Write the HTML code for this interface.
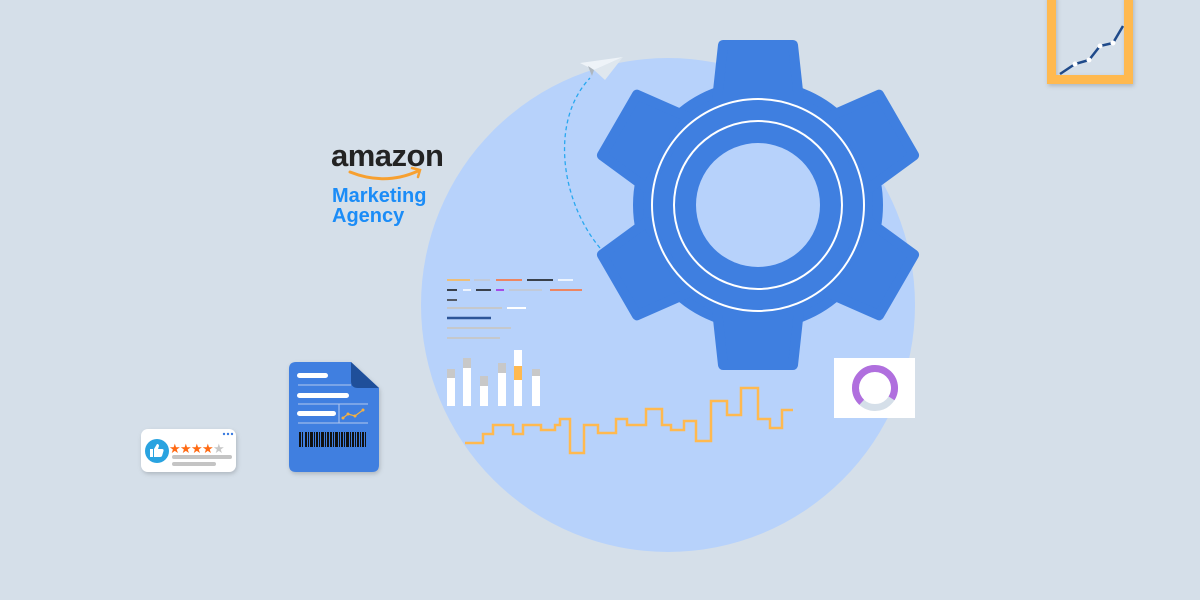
<!DOCTYPE html>
<html><head><meta charset="utf-8"><style>
html,body{margin:0;padding:0;background:#d5dfe9;}
svg{display:block;}
</style></head><body>
<svg width="1200" height="600" viewBox="0 0 1200 600" xmlns="http://www.w3.org/2000/svg">
<defs>
<filter id="sh" x="-20%" y="-20%" width="140%" height="140%"><feDropShadow dx="1" dy="2" stdDeviation="2" flood-color="#000" flood-opacity="0.18"/></filter>
</defs>
<rect width="1200" height="600" fill="#d5dfe9"/>
<circle cx="668" cy="305" r="247" fill="#b7d2fb"/>

<!-- gear -->
<g fill="#3f7fe0" stroke="#3f7fe0" stroke-width="10" stroke-linejoin="round">
  <g transform="translate(758,205)">
    <circle r="120"/>
    <g id="t"><polygon points="-41,-105 41,-105 35,-160 -35,-160"/></g>
    <use href="#t" transform="rotate(60)"/>
    <use href="#t" transform="rotate(120)"/>
    <use href="#t" transform="rotate(180)"/>
    <use href="#t" transform="rotate(240)"/>
    <use href="#t" transform="rotate(300)"/>
  </g>
</g>
<circle cx="758" cy="205" r="106" fill="none" stroke="#fff" stroke-width="2"/>
<circle cx="758" cy="205" r="84" fill="none" stroke="#fff" stroke-width="2"/>
<circle cx="758" cy="205" r="62" fill="#b7d2fb"/>

<!-- dashed path and plane -->
<path d="M600,248 C560,200 550,120 590,78" fill="none" stroke="#29a8f0" stroke-width="1.3" stroke-dasharray="4,3"/>
<polygon points="580,63 623,57 594,70" fill="#eef3f8"/>
<polygon points="594,70 623,57 605,80" fill="#dfe7ee"/>
<polygon points="588,66 594,70 592,76" fill="#aeb7bf"/>

<!-- amazon -->
<text x="331" y="166" font-family="Liberation Sans, sans-serif" font-size="31" font-weight="bold" fill="#232323" letter-spacing="-0.5">amazon</text>
<path d="M350,172 Q385,186 418,171" fill="none" stroke="#f7a030" stroke-width="3" stroke-linecap="round"/>
<path d="M412,168 L420,170 L418,177" fill="none" stroke="#f7a030" stroke-width="2.5" stroke-linecap="round"/>
<text x="332" y="202" font-family="Liberation Sans, sans-serif" font-size="20" font-weight="bold" fill="#1b8cf7">Marketing</text>
<text x="332" y="222" font-family="Liberation Sans, sans-serif" font-size="20" font-weight="bold" fill="#1b8cf7">Agency</text>

<!-- legend lines -->
<g stroke-width="1.5">
<line x1="447" y1="280" x2="470" y2="280" stroke="#ffb74d"/>
<line x1="474" y1="280" x2="490" y2="280" stroke="#c5c8cc"/>
<line x1="496" y1="280" x2="522" y2="280" stroke="#ff6d2e"/>
<line x1="527" y1="280" x2="553" y2="280" stroke="#111"/>
<line x1="558" y1="280" x2="573" y2="280" stroke="#fff"/>
<line x1="447" y1="290" x2="457" y2="290" stroke="#111"/>
<line x1="463" y1="290" x2="471" y2="290" stroke="#fff"/>
<line x1="476" y1="290" x2="491" y2="290" stroke="#111"/>
<line x1="496" y1="290" x2="504" y2="290" stroke="#a020e0"/>
<line x1="509" y1="290" x2="542" y2="290" stroke="#c5c8cc"/>
<line x1="550" y1="290" x2="582" y2="290" stroke="#ff6d2e"/>
<line x1="447" y1="300" x2="457" y2="300" stroke="#333"/>
<line x1="447" y1="308" x2="502" y2="308" stroke="#c5c8cc" stroke-width="2"/>
<line x1="507" y1="308" x2="526" y2="308" stroke="#fff" stroke-width="2"/>
<line x1="447" y1="318" x2="491" y2="318" stroke="#2c5597" stroke-width="2.5"/>
<line x1="447" y1="328" x2="511" y2="328" stroke="#c5c8cc" stroke-width="2"/>
<line x1="447" y1="338" x2="500" y2="338" stroke="#c5c8cc" stroke-width="2"/>
</g>

<!-- bars -->
<g>
<rect x="447" y="369" width="8" height="9" fill="#c8c8c8"/><rect x="447" y="378" width="8" height="28" fill="#fff"/>
<rect x="463" y="358" width="8" height="10" fill="#c8c8c8"/><rect x="463" y="368" width="8" height="38" fill="#fff"/>
<rect x="480" y="376" width="8" height="10" fill="#c8c8c8"/><rect x="480" y="386" width="8" height="20" fill="#fff"/>
<rect x="498" y="363" width="8" height="10" fill="#c8c8c8"/><rect x="498" y="373" width="8" height="33" fill="#fff"/>
<rect x="514" y="350" width="8" height="16" fill="#fff"/><rect x="514" y="366" width="8" height="14" fill="#ffb94f"/><rect x="514" y="380" width="8" height="26" fill="#fff"/>
<rect x="532" y="369" width="8" height="7" fill="#c8c8c8"/><rect x="532" y="376" width="8" height="30" fill="#fff"/>
</g>

<!-- step line -->
<polyline fill="none" stroke="#ffb94f" stroke-width="2.5" points="465,443 483,443 483,434 493,434 493,425 513,425 513,434 523,434 523,425 541,425 541,430 555,430 555,425 560,425 560,419 570,419 570,453 584,453 584,425 598,425 598,433 616,433 616,419 627,419 627,425 646,425 646,409 662,409 662,425 671,425 671,430 684,430 684,421 696,421 696,441 711,441 711,401 727,401 727,415 741,415 741,388 758,388 758,419 770,419 770,428 782,428 782,410 793,410"/>

<!-- donut card -->
<rect x="834" y="358" width="81" height="60" fill="#fff"/>
<circle cx="875" cy="388" r="19.5" fill="none" stroke="#d5dfe9" stroke-width="7"/>
<circle cx="875" cy="388" r="19.5" fill="none" stroke="#b06fde" stroke-width="7" stroke-dasharray="88 200" transform="rotate(133 875 388)"/>

<!-- top-right frame -->
<g filter="url(#sh)">
<path d="M1047,-5 H1133 V84 H1047 Z M1056,-5 V75 H1124 V-5 Z" fill="#ffb94f" fill-rule="evenodd"/>
</g>
<polyline fill="none" stroke="#1f4a8a" stroke-width="2.5" points="1060,74 1075,64 1089,60 1100,46 1113,43 1123,26"/>
<g fill="#fff"><circle cx="1075" cy="64" r="2.5"/><circle cx="1089" cy="60" r="2.5"/><circle cx="1100" cy="46" r="2.5"/><circle cx="1113" cy="43" r="2.5"/></g>

<!-- document -->
<g filter="url(#sh)">
<path d="M296,362 H351 L379,388 V465 Q379,472 372,472 H296 Q289,472 289,465 V369 Q289,362 296,362 Z" fill="#3f7fe0"/>
</g>
<path d="M351,362 L379,388 H358 Q351,388 351,381 Z" fill="#1f4f9a"/>
<rect x="297" y="373" width="31" height="5" rx="2.5" fill="#fff"/>
<line x1="298" y1="385" x2="351" y2="385" stroke="#b5c9ee" stroke-width="1"/>
<rect x="297" y="393" width="52" height="5" rx="2.5" fill="#fff"/>
<line x1="298" y1="404" x2="368" y2="404" stroke="#b5c9ee" stroke-width="1"/>
<line x1="339" y1="404" x2="339" y2="423" stroke="#b5c9ee" stroke-width="1"/>
<rect x="297" y="411" width="39" height="5" rx="2.5" fill="#fff"/>
<line x1="298" y1="423" x2="368" y2="423" stroke="#b5c9ee" stroke-width="1"/>
<polyline fill="none" stroke="#f5b040" stroke-width="1.2" points="343,418 348,414 355,416 363,410"/>
<g fill="#f5b040"><circle cx="343" cy="418" r="1.5"/><circle cx="348" cy="414" r="1.5"/><circle cx="355" cy="416" r="1.5"/><circle cx="363" cy="410" r="1.5"/></g>
<g fill="#111">
<rect x="299" y="432" width="2" height="15"/><rect x="302" y="432" width="1" height="15"/><rect x="305" y="432" width="2" height="15"/><rect x="308" y="432" width="1" height="15"/><rect x="310" y="432" width="3" height="15"/><rect x="314" y="432" width="1" height="15"/><rect x="316" y="432" width="2" height="15"/><rect x="319" y="432" width="1" height="15"/><rect x="321" y="432" width="3" height="15"/><rect x="325" y="432" width="1" height="15"/><rect x="327" y="432" width="2" height="15"/><rect x="330" y="432" width="2" height="15"/><rect x="333" y="432" width="1" height="15"/><rect x="335" y="432" width="3" height="15"/><rect x="339" y="432" width="1" height="15"/><rect x="341" y="432" width="2" height="15"/><rect x="344" y="432" width="1" height="15"/><rect x="346" y="432" width="3" height="15"/><rect x="350" y="432" width="1" height="15"/><rect x="352" y="432" width="2" height="15"/><rect x="355" y="432" width="1" height="15"/><rect x="357" y="432" width="2" height="15"/><rect x="360" y="432" width="1" height="15"/><rect x="362" y="432" width="2" height="15"/><rect x="365" y="432" width="1" height="15"/>
</g>

<!-- review card -->
<g filter="url(#sh)"><rect x="141" y="429" width="95" height="43" rx="7" fill="#fff"/></g>
<g fill="#3a7be0"><circle cx="224" cy="434" r="1.2"/><circle cx="228" cy="434" r="1.2"/><circle cx="232" cy="434" r="1.2"/></g>
<circle cx="157" cy="451" r="12" fill="#29a3e0"/>
<path d="M150,449 h3 v8 h-3 z M154,449 l3,-5 q2,0 2,2 l-1,3 h4 q2,0 1.5,2 l-1.5,5 q-0.5,1 -2,1 h-6 z" fill="#fff"/>
<g font-family="DejaVu Sans, sans-serif" font-size="13" fill="#ff6a13">
<text x="169" y="453">★</text><text x="180" y="453">★</text><text x="191" y="453">★</text><text x="202" y="453">★</text><text x="213" y="453" fill="#c8c8c8">★</text>
</g>
<rect x="172" y="455" width="60" height="4" rx="2" fill="#c4c4c4"/>
<rect x="172" y="462" width="44" height="4" rx="2" fill="#c4c4c4"/>
</svg>
</body></html>
